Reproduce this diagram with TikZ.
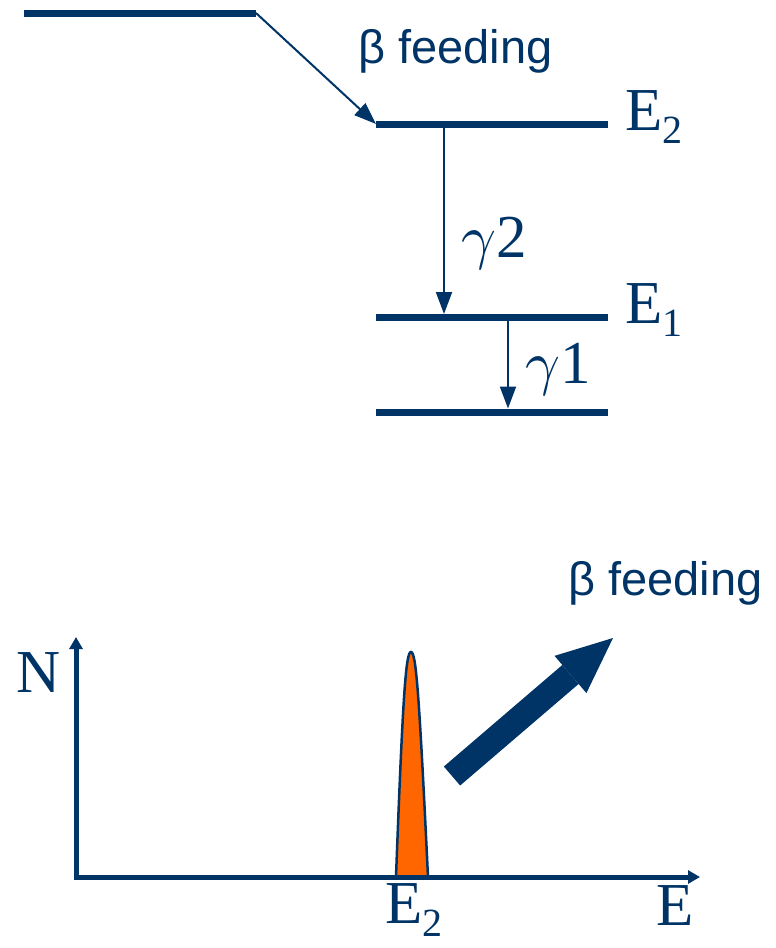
\documentclass[tikz,border=0pt]{standalone}
\usepackage{fontspec}
\setmainfont{Liberation Serif}
\setsansfont{Liberation Sans}
\usetikzlibrary{arrows.meta}
\definecolor{levelblue}{HTML}{003366}
\definecolor{peakorange}{HTML}{FF6600}
\newcommand{\lvsub}[1]{\raisebox{-13pt}[0pt][0pt]{\fontsize{40}{40}\selectfont #1}}
\newcommand{\gam}{\scalebox{6.1}{\normalsize$\gamma$}}

\begin{document}
\begin{tikzpicture}[x=1pt,y=-1pt,
  level/.style={levelblue,line width=7pt},
  trans/.style={levelblue,line width=2pt,-{Triangle[length=22pt,width=16pt]}},
  lbl/.style={levelblue,inner sep=0pt,anchor=base west,font=\fontsize{61}{61}\selectfont},
  feed/.style={levelblue,inner sep=0pt,anchor=base west,font=\sffamily\fontsize{47}{47}\selectfont},
  axis/.style={levelblue,line width=5pt}]
  \useasboundingbox (0,0) rectangle (776,948);
  % level scheme
  \coordinate (p-l) at (24,13);    \coordinate (p-r) at (256,13);
  \coordinate (e2-l) at (376,124); \coordinate (e2-r) at (608,124);
  \coordinate (e1-l) at (376,317); \coordinate (e1-r) at (608,317);
  \coordinate (e0-l) at (376,412); \coordinate (e0-r) at (608,412);
  \draw[level] (p-l) -- (p-r);     % parent
  \draw[level] (e2-l) -- (e2-r);   % E2
  \draw[level] (e1-l) -- (e1-r);   % E1
  \draw[level] (e0-l) -- (e0-r);   % ground
  % transitions
  \coordinate (g2-a) at (444,124); \coordinate (g2-b) at (444,314);
  \coordinate (g1-a) at (508,317); \coordinate (g1-b) at (508,408.5);
  \draw[trans] (p-r) -- (e2-l);
  \draw[trans] (g2-a) -- (g2-b);
  \draw[trans] (g1-a) -- (g1-b);
  % labels
  \node[feed] (feedtop) at (358,63) {β feeding};
  \node[lbl] (e2lbl) at (625,130) {E\lvsub{2}};
  \node[lbl] (e1lbl) at (625,323) {E\lvsub{1}};
  \node[lbl] (g2lbl) at (461,257) {\gam2};
  \node[lbl] (g1lbl) at (525,383) {\gam1};
  % spectrum
  \coordinate (ytip) at (76,637);
  \coordinate (xtip) at (700,877);
  \filldraw[draw=levelblue,fill=peakorange,line width=2.5pt]
    (396,877) .. controls (403,690) and (406,652) .. (411,652)
    .. controls (416,652) and (419,690) .. (428,877) -- cycle;
  \draw[axis,{Triangle[length=12pt,width=13pt]}-{Triangle[length=12pt,width=13pt]}] (ytip) |- (xtip);
  \node[lbl] (nlbl) at (16,692) {N};
  \node[lbl] (e2axis) at (385,923) {E\lvsub{2}};
  \node[lbl] (elbl) at (656,925) {E};
  % big arrow
  \coordinate (fb-tail) at (452,776);
  \coordinate (fb-tip) at (613,638);
  \draw[levelblue,line width=25pt,-{Triangle[length=56pt,width=49pt,line width=0pt]}] (fb-tail) -- (fb-tip);
  \node[feed] (feedbot) at (568,595) {β feeding};
\end{tikzpicture}
\end{document}
